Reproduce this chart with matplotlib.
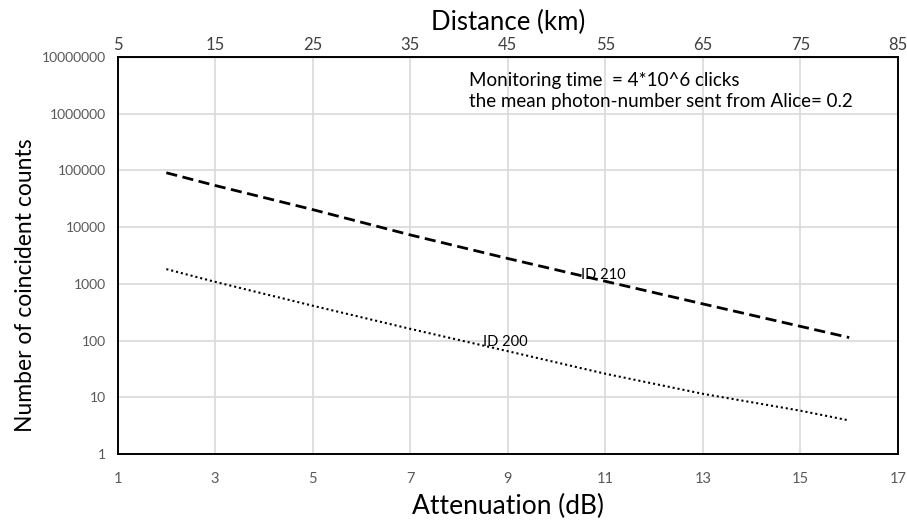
import numpy as np
import matplotlib
matplotlib.use("Agg")
import matplotlib.pyplot as plt
from matplotlib.ticker import FixedLocator, FixedFormatter, NullLocator

plt.rcParams['font.family'] = ['Lato', 'DejaVu Sans']

# values
attenuation = [2, 3, 5, 7, 9, 11, 13, 15, 16]
id210_counts = [91000, 54300, 20400, 7300, 2800, 1110, 443, 178, 113]
id200_counts = [1820, 1085, 412, 161, 65, 26, 11.5, 5.8, 3.9]

x_ticks = [1, 3, 5, 7, 9, 11, 13, 15, 17]
dist_ticks = [5, 15, 25, 35, 45, 55, 65, 75, 85]
y_ticks = [1, 10, 100, 1000, 10000, 100000, 1000000, 10000000]
y_labels = [str(v) for v in y_ticks]

fig = plt.figure(figsize=(9.07, 5.24), dpi=100)
ax = fig.add_axes([0.1296, 0.1336, 0.8605, 0.7576])

ax.plot(attenuation, id210_counts, color='black', lw=2.0, ls=(0, (4, 2)))
ax.plot(attenuation, id200_counts, color='black', lw=1.5, ls=(0, (1, 1.4)))

ax.set_yscale('log')
ax.set_xlim(1, 17)
ax.set_ylim(1, 1e7)
ax.xaxis.set_major_locator(FixedLocator(x_ticks))
ax.yaxis.set_major_locator(FixedLocator(y_ticks))
ax.yaxis.set_major_formatter(FixedFormatter(y_labels))
ax.yaxis.set_minor_locator(NullLocator())
ax.grid(True, color='#d9d9d9', lw=1.2)
ax.set_axisbelow(True)
ax.tick_params(length=0, labelcolor='#595959')
ax.tick_params(axis='y', labelsize=10, pad=8)
ax.tick_params(axis='x', labelsize=10.5, pad=13)
for s in ax.spines.values():
    s.set_color('black')
    s.set_linewidth(1.4)

sec = ax.secondary_xaxis('top', functions=(lambda a: 5 * a, lambda d: d / 5))
sec.xaxis.set_major_locator(FixedLocator(dist_ticks))
sec.xaxis.set_minor_locator(NullLocator())
sec.tick_params(length=0, labelsize=12, labelcolor='#404040', pad=3)
sec.set_xlabel('Distance (km)', fontsize=18.5, labelpad=5)

ax.set_xlabel('Attenuation (dB)', fontsize=19, labelpad=6)
ax.set_ylabel('Number of coincident counts', fontsize=16.5)
ax.yaxis.set_label_coords(-0.104, 0.426)

ax.text(8.2, 3.93e6, 'Monitoring time  = 4*10^6 clicks', fontsize=13.5, va='center')
ax.text(8.2, 1.67e6, 'the mean photon-number sent from Alice= 0.2', fontsize=13.5, va='center')
ax.text(10.5, 1450, 'ID 210', fontsize=10.5, va='center')
ax.text(8.5, 95, 'ID 200', fontsize=10.5, va='center')

fig.savefig('out.png', dpi=100)
